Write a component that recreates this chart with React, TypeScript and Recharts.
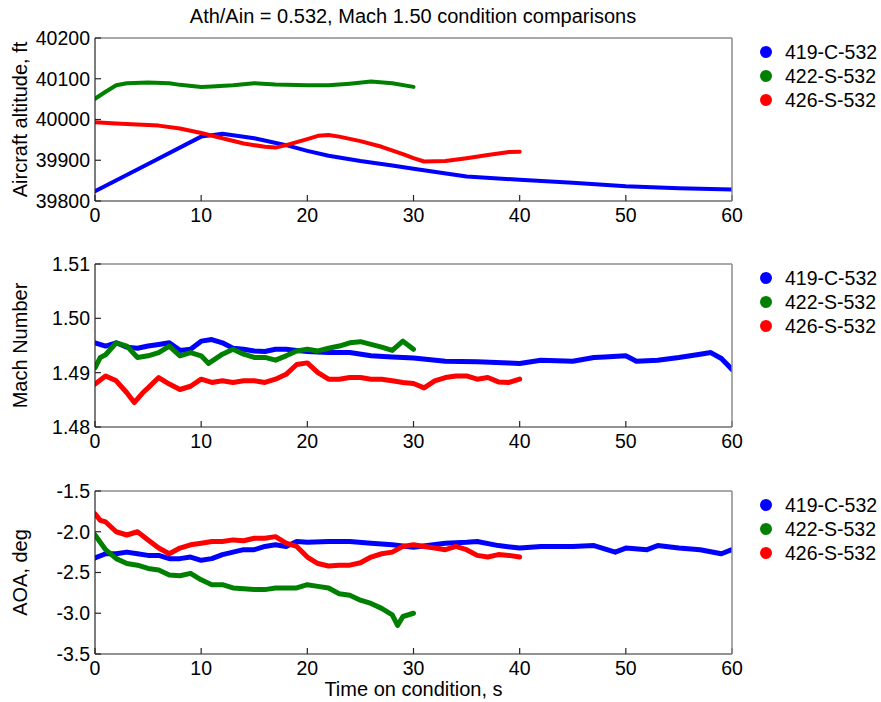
import React from 'react';
import { LineChart, Line, XAxis, YAxis } from 'recharts';

// ---------- shared ----------
const seriesNames = ['419-C-532', '422-S-532', '426-S-532'];
const seriesColors = ['#0000ff', '#008000', '#ff0000'];
const timeTicks = [0, 10, 20, 30, 40, 50, 60];
const titleText = 'Ath/Ain = 0.532, Mach 1.50 condition comparisons';
const xLabelText = 'Time on condition, s';

// ---------- altitude ----------
const altTicks = [39800, 39900, 40000, 40100, 40200];
const altT419 = [0, 5, 10, 12, 15, 18, 20, 22, 25, 28, 30, 35, 40, 45, 50, 55, 60];
const altV419 = [39824, 39891, 39958, 39965, 39954, 39937, 39923, 39911, 39898, 39887, 39879, 39860, 39852, 39845, 39836, 39831, 39828];
const altT422 = [0, 1, 2, 3, 5, 7, 8, 10, 11, 13, 15, 17, 20, 22, 24, 26, 28, 30];
const altV422 = [40051, 40068, 40084, 40089, 40091, 40089, 40085, 40080, 40081, 40084, 40089, 40086, 40084, 40084, 40088, 40093, 40089, 40080];
const altT426 = [0, 2, 4, 6, 8, 10, 12, 14, 16, 17, 18, 20, 21, 22, 23, 25, 27, 29, 30, 31, 33, 35, 37, 39, 40];
const altV426 = [39993, 39990, 39988, 39985, 39978, 39967, 39954, 39941, 39933, 39931, 39937, 39952, 39960, 39962, 39958, 39947, 39933, 39915, 39905, 39897, 39898, 39905, 39913, 39920, 39921];

// ---------- mach ----------
const machTicks = [1.48, 1.49, 1.5, 1.51];
const machT419 = [0, 1, 2, 3, 4, 5, 6, 7, 8, 9, 10, 11, 12, 13, 14, 15, 16, 17, 18, 19, 20, 22, 24, 26, 28, 30, 33, 36, 39, 40, 42, 45, 47, 48, 50, 51, 53, 55, 57, 58, 59, 60];
const machV419 = [1.4955, 1.4949, 1.4955, 1.4947, 1.4945, 1.4949, 1.4952, 1.4955, 1.4941, 1.4943, 1.4958, 1.4961, 1.4955, 1.4945, 1.4943, 1.494, 1.4939, 1.4943, 1.4943, 1.4941, 1.4939, 1.4937, 1.4937, 1.4931, 1.4929, 1.4927, 1.4921, 1.492, 1.4918, 1.4917, 1.4923, 1.4921, 1.4928, 1.4929, 1.4931, 1.4921, 1.4923, 1.4928, 1.4934, 1.4937, 1.4926, 1.4906];
const machT422 = [0, 0.5, 1, 2, 3, 4, 5, 6, 7, 8, 9, 10, 10.7, 12, 13, 14, 15, 16, 17, 18, 19, 20, 21, 22, 23, 24, 25, 26, 27, 28, 29, 30];
const machV422 = [1.4909, 1.4928, 1.4933, 1.4955, 1.4949, 1.4928, 1.4931, 1.4937, 1.4949, 1.4931, 1.4937, 1.4931, 1.4917, 1.4934, 1.4943, 1.4934, 1.4928, 1.4928, 1.4923, 1.4931, 1.494, 1.4943, 1.494, 1.4945, 1.4949, 1.4955, 1.4957, 1.4952, 1.4947, 1.4941, 1.4958, 1.4943];
const machT426 = [0, 1, 2, 3, 3.7, 4.5, 5, 6, 7, 8, 9, 10, 11, 12, 13, 14, 15, 16, 17, 18, 19, 20, 21, 22, 23, 24, 25, 26, 27, 28, 29, 30, 31, 32, 33, 34, 35, 36, 37, 38, 39, 40];
const machV426 = [1.4879, 1.4894, 1.4885, 1.4863, 1.4845, 1.4863, 1.4872, 1.4891, 1.4879, 1.4869, 1.4875, 1.4888, 1.4882, 1.4885, 1.4882, 1.4885, 1.4885, 1.4882, 1.4888, 1.4897, 1.4915, 1.4918, 1.49, 1.4888, 1.4888, 1.4891, 1.4891, 1.4888, 1.4888, 1.4885, 1.4882, 1.488, 1.4872, 1.4885, 1.4891, 1.4894, 1.4894, 1.4888, 1.4891, 1.4883, 1.4882, 1.4888];

// ---------- AOA ----------
const aoaTicks = [-3.5, -3.0, -2.5, -2.0, -1.5];
const aoaT419 = [0, 1, 2, 3, 4, 5, 6, 7, 8, 9, 10, 11, 12, 13, 14, 15, 16, 17, 18, 19, 20, 22, 24, 26, 28, 30, 33, 35, 36, 38, 40, 42, 45, 47, 49, 50, 52, 53, 55, 57, 59, 60];
const aoaV419 = [-2.32, -2.27, -2.27, -2.25, -2.27, -2.29, -2.29, -2.33, -2.33, -2.31, -2.35, -2.33, -2.28, -2.25, -2.22, -2.22, -2.18, -2.16, -2.18, -2.12, -2.13, -2.12, -2.12, -2.14, -2.16, -2.19, -2.14, -2.13, -2.12, -2.17, -2.2, -2.18, -2.18, -2.17, -2.25, -2.2, -2.22, -2.17, -2.2, -2.22, -2.27, -2.22];
const aoaT422 = [0, 1, 2, 3, 4, 5, 6, 7, 8, 9, 10, 11, 12, 13, 14, 15, 16, 17, 18, 19, 20, 21, 22, 23, 24, 25, 26, 27, 28, 28.5, 29, 30];
const aoaV422 = [-2.04, -2.22, -2.33, -2.39, -2.41, -2.45, -2.47, -2.53, -2.54, -2.51, -2.59, -2.65, -2.65, -2.69, -2.7, -2.71, -2.71, -2.69, -2.69, -2.69, -2.65, -2.67, -2.69, -2.76, -2.78, -2.84, -2.88, -2.94, -3.02, -3.15, -3.04, -3.0];
const aoaT426 = [0, 0.5, 1, 2, 3, 4, 5, 6, 7, 8, 9, 10, 11, 12, 13, 14, 15, 16, 17, 18, 19, 20, 21, 22, 23, 24, 25, 26, 27, 28, 29, 30, 31, 32, 33, 34, 35, 36, 37, 38, 39, 40];
const aoaV426 = [-1.78, -1.86, -1.88, -2.0, -2.04, -2.0, -2.1, -2.2, -2.27, -2.2, -2.16, -2.14, -2.12, -2.12, -2.1, -2.11, -2.08, -2.08, -2.06, -2.14, -2.18, -2.31, -2.39, -2.42, -2.41, -2.41, -2.38, -2.31, -2.27, -2.25, -2.18, -2.16, -2.18, -2.2, -2.22, -2.18, -2.22, -2.29, -2.31, -2.28, -2.29, -2.31];

const FONT = 'Arial, "Liberation Sans", Helvetica, sans-serif';
const FS_TICK = 19.5;
const FS_LABEL = 20;

const zip = (t: number[], v: number[]) => t.map((x, i) => ({ t: x, v: v[i] }));

type Series = { name: string; color: string; data: { t: number; v: number }[] };

const makeSeries = (pairs: [number[], number[]][]): Series[] =>
  pairs.map((p, i) => ({ name: seriesNames[i], color: seriesColors[i], data: zip(p[0], p[1]) }));

const altSeries = makeSeries([[altT419, altV419], [altT422, altV422], [altT426, altV426]]);
const machSeries = makeSeries([[machT419, machV419], [machT422, machV422], [machT426, machV426]]);
const aoaSeries = makeSeries([[aoaT419, aoaV419], [aoaT422, aoaV422], [aoaT426, aoaV426]]);

const CHART_W = 881;
const M_LEFT = 35;
const YAX_W = 60;
const M_RIGHT = 148;
const PLOT_H = 163;
const PLOT_W = CHART_W - M_LEFT - YAX_W - M_RIGHT - 1;
const M_TOP = 19; // + 1px top axis
const XAX_H = 30;
const GRID_LINE = { stroke: '#7a7a7a', strokeWidth: 1, strokeDasharray: '1 3' };

function LegendBox({ top, series }: { top: number; series: Series[] }) {
  return (
    <div style={{ position: 'absolute', left: 760, top, width: 120, fontFamily: FONT, fontSize: FS_TICK, color: '#000' }}>
      {series.map((s) => (
        <div key={s.name} style={{ display: 'flex', alignItems: 'center', height: 24 }}>
          <span style={{ display: 'inline-block', width: 12, height: 12, borderRadius: 6, background: s.color }} />
          <span style={{ marginLeft: 13, lineHeight: '24px' }}>{s.name}</span>
        </div>
      ))}
    </div>
  );
}

type PanelProps = {
  top: number;
  height: number;
  yDomain: [number, number];
  yTicks: number[];
  yLabel: string;
  fmt: (v: number) => string;
  series: Series[];
  xLabel?: string;
  sw: number;
};

function Panel({ top, height, yDomain, yTicks, yLabel, fmt, series, xLabel, sw }: PanelProps) {
  const bottom = height - M_TOP - 1 - PLOT_H - XAX_H;
  const yLabelFn = (p: any) => {
    const vb = p.viewBox || {};
    const cy = vb.y + vb.height / 2;
    return (
      <text x={27} y={cy} transform={`rotate(-90, 27, ${cy})`} textAnchor="middle" fontFamily={FONT} fontSize={FS_LABEL} fill="#000">
        {yLabel}
      </text>
    );
  };
  const xLabelFn = (p: any) => {
    const vb = p.viewBox || {};
    return (
      <text x={vb.x + vb.width / 2} y={vb.y + 42} textAnchor="middle" fontFamily={FONT} fontSize={FS_LABEL} fill="#000">
        {xLabel}
      </text>
    );
  };
  return (
    <div style={{ position: 'absolute', left: 0, top, width: CHART_W, height }}>
      <LineChart width={CHART_W} height={height} margin={{ top: M_TOP, right: M_RIGHT, bottom, left: M_LEFT }}>
        <XAxis
          xAxisId={0}
          dataKey="t"
          type="number"
          domain={[0, 60]}
          ticks={timeTicks}
          interval={0}
          height={XAX_H}
          tickSize={-6}
          tickMargin={13}
          axisLine={{ stroke: '#262626', strokeWidth: 1.2 }}
          tickLine={{ stroke: '#262626', strokeWidth: 1.2 }}
          tick={{ fill: '#000', fontSize: FS_TICK, fontFamily: FONT }}
          label={xLabel ? xLabelFn : undefined}
          allowDataOverflow
        />
        {/* top axis: its full-height inward tick lines form the vertical dotted grid */}
        <XAxis
          xAxisId="top"
          orientation="top"
          type="number"
          domain={[0, 60]}
          ticks={timeTicks.slice(1, -1)}
          interval={0}
          height={1}
          tickSize={-PLOT_H}
          tick={false}
          axisLine={{ stroke: '#8c8c8c', strokeWidth: 1.5 }}
          tickLine={GRID_LINE}
          allowDataOverflow
        />
        <YAxis
          yAxisId={0}
          type="number"
          domain={yDomain}
          ticks={yTicks}
          interval={0}
          width={YAX_W}
          tickSize={-6}
          tickMargin={11}
          tickFormatter={fmt}
          axisLine={{ stroke: '#262626', strokeWidth: 1.2 }}
          tickLine={{ stroke: '#262626', strokeWidth: 1.2 }}
          tick={{ fill: '#000', fontSize: FS_TICK, fontFamily: FONT }}
          label={yLabelFn}
          allowDataOverflow
        />
        {/* right axis: its full-width inward tick lines form the horizontal dotted grid */}
        <YAxis
          yAxisId="r"
          orientation="right"
          type="number"
          domain={yDomain}
          ticks={yTicks.slice(1, -1)}
          interval={0}
          width={1}
          tickSize={-PLOT_W}
          tick={false}
          axisLine={{ stroke: '#8c8c8c', strokeWidth: 1.5 }}
          tickLine={GRID_LINE}
          allowDataOverflow
        />
        {series.map((s) => (
          <Line
            key={s.name}
            xAxisId={0}
            yAxisId={0}
            data={s.data}
            dataKey="v"
            name={s.name}
            stroke={s.color}
            strokeWidth={sw}
            strokeLinejoin="round"
            strokeLinecap="round"
            dot={false}
            activeDot={false}
            isAnimationActive={false}
          />
        ))}
      </LineChart>
      <LegendBox top={22} series={series} />
    </div>
  );
}

export default function App() {
  return (
    <div style={{ position: 'absolute', left: 0, top: 0, width: 881, height: 702, background: '#fff' }}>
      <svg width={881} height={30} style={{ position: 'absolute', left: 0, top: 0 }}>
        <text x={413} y={23} textAnchor="middle" fontFamily={FONT} fontSize={FS_LABEL} fill="#000">
          {titleText}
        </text>
      </svg>
      <Panel top={18} height={223} yDomain={[39800, 40200]} yTicks={altTicks} yLabel="Aircraft altitude, ft" fmt={(v) => String(v)} series={altSeries} sw={4} />
      <Panel top={244} height={223} yDomain={[1.48, 1.51]} yTicks={machTicks} yLabel="Mach Number" fmt={(v) => v.toFixed(2)} series={machSeries} sw={5} />
      <Panel top={471} height={231} yDomain={[-3.5, -1.5]} yTicks={aoaTicks} yLabel="AOA, deg" fmt={(v) => v.toFixed(1)} series={aoaSeries} xLabel={xLabelText} sw={5} />
    </div>
  );
}
